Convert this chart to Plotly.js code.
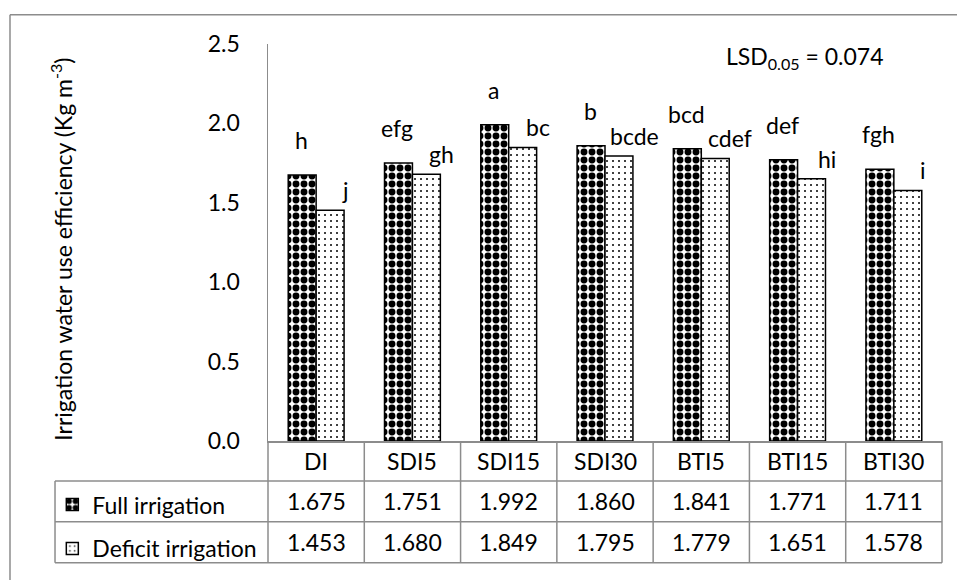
<!DOCTYPE html>
<html>
<head>
<meta charset="utf-8">
<script src="https://cdn.plot.ly/plotly-3.0.1.min.js"></script>
<style>
html,body{margin:0;padding:0;background:#fff;}
#chart{width:957px;height:582px;}
</style>
</head>
<body>
<div id="chart"></div>
<script>
var categories = ["DI", "SDI5", "SDI15", "SDI30", "BTI5", "BTI15", "BTI30"];
var fullIrrigation = [1.675, 1.751, 1.992, 1.860, 1.841, 1.771, 1.711];
var deficitIrrigation = [1.453, 1.680, 1.849, 1.795, 1.779, 1.651, 1.578];
var fullLetters = ["h", "efg", "a", "b", "bcd", "def", "fgh"];
var deficitLetters = ["j", "gh", "bc", "bcde", "cdef", "hi", "i"];
var seriesNames = ["Full irrigation", "Deficit irrigation"];
var yTicks = [0, 0.5, 1.0, 1.5, 2.0, 2.5];
var lsdText = "LSD<sub>0.05</sub> = 0.074";
var yTitle = "Irrigation water use efficiency (Kg m<sup>-3</sup>)";

var FONT = "Lato, 'Liberation Sans', sans-serif";
var FS = 23;
var GRID = "#8c8c8c";

var traces = [
  {
    type: "bar", name: seriesNames[0], x: categories, y: fullIrrigation,
    legendgroup: "g1",
    marker: {
      color: "#ffffff",
      line: {color: "#000000", width: 1.5},
      pattern: {shape: ".", fgcolor: "#000000", bgcolor: "#ffffff", size: 8, solidity: 0.58}
    },
    hoverinfo: "x+y"
  },
  {
    type: "bar", name: seriesNames[1], x: categories, y: deficitIrrigation,
    legendgroup: "g2",
    marker: {
      color: "#ffffff",
      line: {color: "#000000", width: 1.5},
      pattern: {shape: ".", fgcolor: "#000000", bgcolor: "#ffffff", size: 6, solidity: 0.09}
    },
    hoverinfo: "x+y"
  }
];

// table geometry (paper coords)
var rowTop = 0, row1 = -0.1005, row2 = -0.2034, row3 = -0.3064;
var legLeft = -0.316;
var shapes = [];
function line(x0, y0, x1, y1) {
  shapes.push({type: "line", xref: "paper", yref: "paper", x0: x0, y0: y0, x1: x1, y1: y1,
    line: {color: GRID, width: 1.5}});
}
line(legLeft, row1, 1, row1);
line(legLeft, row2, 1, row2);
line(legLeft, row3, 1, row3);
line(legLeft, row1, legLeft, row3);
for (var i = 0; i <= categories.length; i++) {
  line(i / categories.length, rowTop, i / categories.length, row3);
}
// outer chart border (left and top)
shapes.push({type: "line", xref: "paper", yref: "paper", x0: -0.3828, y0: 1.0735, x1: -0.3828, y1: -0.35,
  line: {color: GRID, width: 1.5}});
shapes.push({type: "line", xref: "paper", yref: "paper", x0: -0.3828, y0: 1.0735, x1: 1.05, y1: 1.0735,
  line: {color: GRID, width: 1.5}});

var annotations = [];
var tf = {family: FONT, size: FS, color: "#000000"};
categories.forEach(function (c, i) {
  annotations.push({x: c, xref: "x", y: -0.0502, yref: "paper", text: c, showarrow: false,
    xanchor: "center", yanchor: "middle", font: tf});
  annotations.push({x: c, xref: "x", y: -0.152, yref: "paper", text: fullIrrigation[i].toFixed(3),
    showarrow: false, xanchor: "center", yanchor: "middle", font: tf});
  annotations.push({x: c, xref: "x", y: -0.255, yref: "paper", text: deficitIrrigation[i].toFixed(3),
    showarrow: false, xanchor: "center", yanchor: "middle", font: tf});
  annotations.push({x: c, xref: "x", y: fullIrrigation[i], yref: "y", text: fullLetters[i],
    showarrow: false, xanchor: "center", yanchor: "middle", xshift: -15, yshift: 35, font: tf});
  annotations.push({x: c, xref: "x", y: deficitIrrigation[i], yref: "y", text: deficitLetters[i],
    showarrow: false, xanchor: "center", yanchor: "middle", xshift: 29, yshift: 20, font: tf});
});
annotations.push({x: 0.797, xref: "paper", y: 0.966, yref: "paper", text: lsdText, showarrow: false,
  xanchor: "center", yanchor: "middle", font: tf});
annotations.push({x: -0.3056, xref: "paper", y: 0.482, yref: "paper", text: yTitle, showarrow: false,
  textangle: -90, xanchor: "center", yanchor: "middle", font: tf});

var layout = {
  width: 957, height: 582,
  margin: {l: 268, r: 15, t: 44, b: 130, pad: 0},
  paper_bgcolor: "#ffffff", plot_bgcolor: "#ffffff",
  font: {family: FONT, size: FS, color: "#000000"},
  barmode: "group", bargap: 0.42, bargroupgap: 0,
  showlegend: true,
  legend: {x: legLeft - 0.004, xanchor: "left", y: -0.106, yanchor: "top",
    traceorder: "grouped", tracegroupgap: 11, bgcolor: "rgba(0,0,0,0)",
    font: {family: FONT, size: FS, color: "#000000"}, itemwidth: 30},
  xaxis: {type: "category", range: [-0.5, 6.5], showticklabels: false, ticks: "",
    showline: true, linecolor: GRID, linewidth: 1.5, showgrid: false, zeroline: false, fixedrange: true},
  yaxis: {range: [0, 2.5], tickvals: yTicks, tickformat: ".1f", ticks: "", ticklabelstandoff: 22,
    showline: true, linecolor: GRID, linewidth: 1.5, showgrid: false, zeroline: false,
    tickfont: {family: FONT, size: FS, color: "#000000"}, fixedrange: true},
  shapes: shapes,
  annotations: annotations
};

Plotly.newPlot("chart", traces, layout, {displayModeBar: false, staticPlot: true});
</script>
</body>
</html>
